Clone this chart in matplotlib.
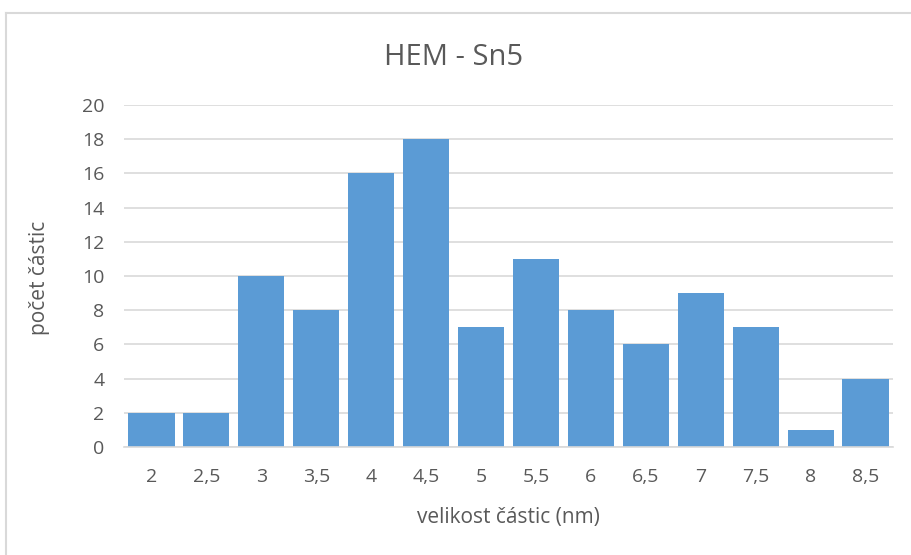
import matplotlib
matplotlib.use("Agg")
import matplotlib.pyplot as plt
from matplotlib.lines import Line2D

# particle size classes (nm) and counts
sizes = ["2", "2,5", "3", "3,5", "4", "4,5", "5", "5,5", "6", "6,5", "7", "7,5", "8", "8,5"]
counts = [2, 2, 10, 8, 16, 18, 7, 11, 8, 6, 9, 7, 1, 4]
y_ticks = list(range(0, 21, 2))

bar_color = "#5B9BD5"
grid_color = "#D9D9D9"
text_color = "#595959"

plt.rcParams["font.family"] = ["Open Sans", "DejaVu Sans"]

W, H = 911, 555
fig = plt.figure(figsize=(W / 100, H / 100), dpi=100)

# chart frame (top and left edges visible)
fx, fy = 5.5 / W, 1 - 12.5 / H
fig.lines.append(Line2D([fx, 1.0], [fy, fy], transform=fig.transFigure,
                        color=grid_color, linewidth=1.5))
fig.lines.append(Line2D([fx, fx], [0.0, fy], transform=fig.transFigure,
                        color=grid_color, linewidth=1.5))

left, right, top, bottom = 124, 893, 105, 447
ax = fig.add_axes([left / W, 1 - bottom / H, (right - left) / W, (bottom - top) / H])

x = list(range(len(sizes)))
ax.bar(x, counts, width=0.84, color=bar_color, zorder=3)

ax.set_xlim(-0.5, len(sizes) - 0.5)
ax.set_ylim(0, 20)
ax.set_yticks(y_ticks)
ax.set_xticks(x)
ax.set_xticklabels(sizes)

ax.yaxis.grid(True, color=grid_color, linewidth=1.2, zorder=0)
ax.set_axisbelow(True)
for s in ["top", "right", "left"]:
    ax.spines[s].set_visible(False)
ax.spines["bottom"].set_color(grid_color)
ax.spines["bottom"].set_linewidth(1.2)
ax.spines["bottom"].set_zorder(4)

ax.tick_params(axis="both", length=0, labelsize=14, colors=text_color)
ax.tick_params(axis="x", pad=15)
ax.tick_params(axis="y", pad=14)

ax.set_xlabel("velikost částic (nm)", fontsize=15, color=text_color)
ax.xaxis.set_label_coords(((508 - left) / (right - left)), -(517 - bottom) / (bottom - top))
ax.xaxis.label.set_va("center")
ax.set_ylabel("počet částic", fontsize=15, color=text_color)
ax.yaxis.set_label_coords(-(left - 40) / (right - left), (bottom - 278) / (bottom - top))
ax.yaxis.label.set_va("center")

fig.text(454 / W, 1 - 57 / H, "HEM - Sn5", ha="center", va="center",
         fontsize=21, color=text_color)

fig.savefig("out.png", dpi=100)
